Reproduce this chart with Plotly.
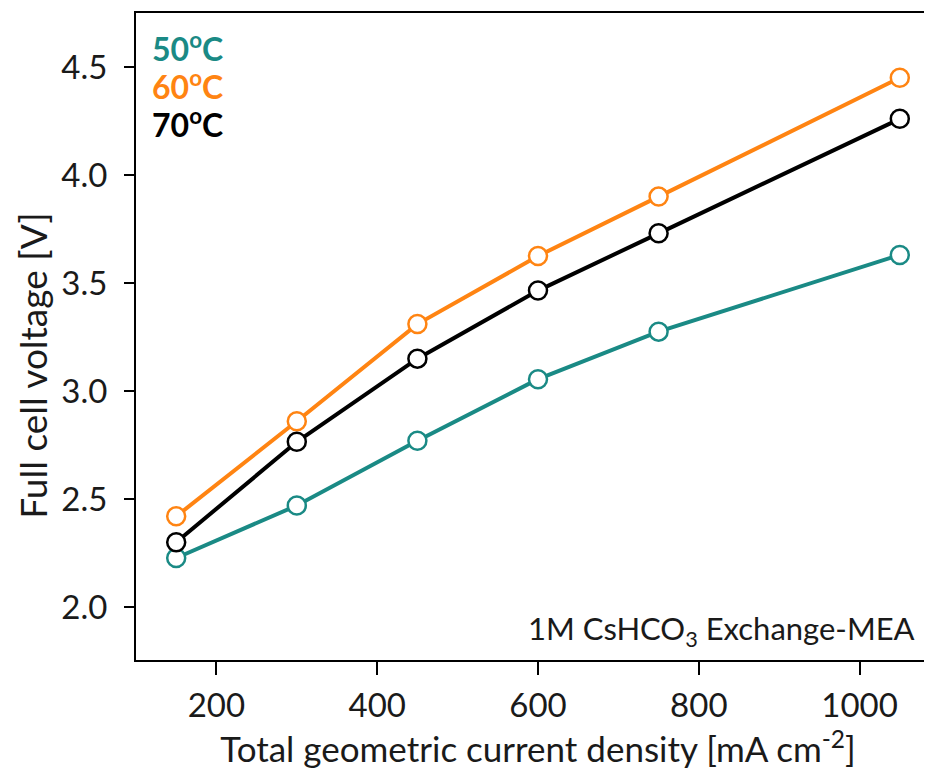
import plotly.graph_objects as go

current_density = [150, 300, 450, 600, 750, 1050]
v_50C = [2.227, 2.47, 2.77, 3.055, 3.275, 3.63]
v_60C = [2.42, 2.86, 3.31, 3.625, 3.90, 4.45]
v_70C = [2.30, 2.765, 3.15, 3.465, 3.73, 4.26]
series_names = ["50<sup>o</sup>C", "60<sup>o</sup>C", "70<sup>o</sup>C"]
series_colors = ["#1a8a85", "#ff8412", "#000000"]
x_ticks = [200, 400, 600, 800, 1000]
y_ticks = [2.0, 2.5, 3.0, 3.5, 4.0, 4.5]

FONT = "Lato"
fig = go.Figure()
for name, ys, col in zip(series_names, [v_50C, v_60C, v_70C], series_colors):
    fig.add_trace(go.Scatter(
        x=current_density, y=ys, mode="lines+markers", name=name,
        line=dict(color=col, width=4),
        marker=dict(symbol="circle", size=18, color="white",
                    line=dict(color=col, width=2.5)),
        showlegend=False,
    ))

# invisible trace on the mirrored right axis so its inward ticks are drawn
fig.add_trace(go.Scatter(x=current_density[:1], y=v_50C[:1], yaxis="y2", mode="markers",
                         marker=dict(opacity=0), hoverinfo="skip", showlegend=False))

legend_y = [0.948, 0.889, 0.830]
for name, col, yy in zip(series_names, series_colors, legend_y):
    fig.add_annotation(xref="paper", yref="paper", x=0.0174, y=yy, text="<b>" + name + "</b>",
                       showarrow=False, xanchor="left", yanchor="middle",
                       font=dict(family=FONT, size=32, color=col))

fig.add_annotation(xref="paper", yref="paper", x=0.971, y=0.045,
                   text="1M CsHCO<sub>3</sub> Exchange-MEA", showarrow=False,
                   xanchor="right", yanchor="middle",
                   font=dict(family=FONT, size=31, color="#1a1a1a"))

# y-axis title (rotated text placed to match the reference position)
fig.add_annotation(xref="paper", yref="paper", x=-0.128, y=0.455,
                   text="Full cell voltage [V]", showarrow=False, textangle=-90,
                   xanchor="center", yanchor="middle",
                   font=dict(family=FONT, size=37, color="#1a1a1a"))

fig.update_layout(
    width=932, height=771,
    margin=dict(l=128, r=0, t=5, b=119),
    paper_bgcolor="white", plot_bgcolor="white",
    font=dict(family=FONT, size=33, color="#1a1a1a"),
    xaxis=dict(range=[100, 1100], tickvals=x_ticks,
               showline=True, linecolor="black", linewidth=2, mirror=True,
               ticks="outside", ticklen=13, tickwidth=2, tickcolor="black",
               showgrid=False, zeroline=False, ticklabelstandoff=2,
               title=dict(text="Total geometric current density [mA cm<sup>-2</sup>]",
                          font=dict(size=35), standoff=8)),
    yaxis=dict(range=[1.755, 4.75], tickvals=y_ticks,
               tickformat=".1f",
               showline=True, linecolor="black", linewidth=2, mirror=False,
               ticks="outside", ticklen=10, tickwidth=2, tickcolor="black",
               showgrid=False, zeroline=False, ticklabelstandoff=10),
    yaxis2=dict(range=[1.755, 4.75], tickvals=y_ticks,
                overlaying="y", side="right", showticklabels=False,
                ticks="inside", ticklen=15, tickwidth=2, tickcolor="black",
                showline=True, linecolor="black", linewidth=2,
                showgrid=False, zeroline=False),
)

fig.write_html("out.html")
